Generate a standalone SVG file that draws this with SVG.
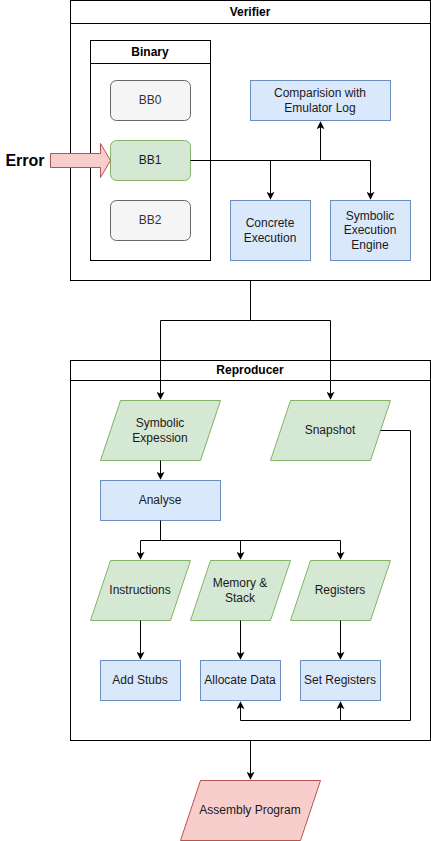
<svg xmlns="http://www.w3.org/2000/svg" width="431" height="841" viewBox="0 0 431 841">
<style>
text{font-family:"Liberation Sans",Arial,sans-serif;font-size:12px;text-anchor:middle;dominant-baseline:central;fill:#1a1a1a}
.t{font-weight:bold;fill:#000}
.c{fill:none;stroke:#000;stroke-width:1}
.sw{fill:#fff;stroke:#000;stroke-width:1}
.grey{fill:#f5f5f5;stroke:#666}
.green{fill:#d5e8d4;stroke:#82b366}
.blue{fill:#dae8fc;stroke:#6c8ebf}
.red{fill:#f8cecc;stroke:#b85450}
</style>
<defs>
<marker id="a" viewBox="0 0 10 10" refX="9" refY="5" markerWidth="8" markerHeight="8" markerUnits="userSpaceOnUse" orient="auto">
<path d="M0,0 L10,5 L0,10 L2.5,5 Z" fill="#000"/>
</marker>
</defs>
<rect width="431" height="841" fill="#fff"/>
<g id="verifier">
<rect class="sw" x="70.5" y="0.5" width="360" height="280"/>
<line class="c" x1="70.5" y1="23.5" x2="430.5" y2="23.5"/>
<text class="t" x="250" y="12">Verifier</text>
</g>
<g id="binary">
<rect class="sw" x="90.5" y="40.5" width="120" height="220"/>
<line class="c" x1="90.5" y1="63.5" x2="210.5" y2="63.5"/>
<text class="t" x="150" y="52">Binary</text>
</g>
<g id="bb0"><rect class="grey" x="110.5" y="80.5" width="80" height="40" rx="6"/><text x="150" y="100" style="fill:#333">BB0</text></g>
<g id="bb1"><rect class="green" x="110.5" y="140.5" width="80" height="40" rx="6"/><text x="150" y="160">BB1</text></g>
<g id="bb2"><rect class="grey" x="110.5" y="200.5" width="80" height="40" rx="6"/><text x="150" y="220" style="fill:#333">BB2</text></g>
<g id="error">
<path class="red" d="M50.5,153.5 L100.5,153.5 L100.5,143.5 L110.5,160.5 L100.5,177.5 L100.5,167.5 L50.5,167.5 Z"/>
<text x="25" y="160" style="font-weight:bold;font-size:16px;fill:#000">Error</text>
</g>
<g id="comparison"><rect class="blue" x="250.5" y="80.5" width="140" height="40"/><text x="320" y="93">Comparision with</text><text x="320" y="108">Emulator Log</text></g>
<g id="concrete"><rect class="blue" x="230.5" y="200.5" width="80" height="60"/><text x="270" y="223">Concrete</text><text x="270" y="238">Execution</text></g>
<g id="symengine"><rect class="blue" x="330.5" y="200.5" width="80" height="60"/><text x="370" y="215.5">Symbolic</text><text x="370" y="230">Execution</text><text x="370" y="245">Engine</text></g>
<g id="reproducer">
<rect class="sw" x="70.5" y="360.5" width="360" height="380"/>
<line class="c" x1="70.5" y1="380.5" x2="430.5" y2="380.5"/>
<text class="t" x="250" y="370">Reproducer</text>
</g>
<g id="symexp"><path class="green" d="M120.5,400.5 L220.5,400.5 L200.5,460.5 L100.5,460.5 Z"/><text x="160" y="423">Symbolic</text><text x="160" y="438">Expession</text></g>
<g id="snapshot"><path class="green" d="M290.5,400.5 L390.5,400.5 L370.5,460.5 L270.5,460.5 Z"/><text x="330" y="430">Snapshot</text></g>
<g id="analyse"><rect class="blue" x="100.5" y="480.5" width="120" height="40"/><text x="160" y="500">Analyse</text></g>
<g id="instructions"><path class="green" d="M110.5,560.5 L190.5,560.5 L170.5,620.5 L90.5,620.5 Z"/><text x="140" y="590">Instructions</text></g>
<g id="memory"><path class="green" d="M210.5,560.5 L290.5,560.5 L270.5,620.5 L190.5,620.5 Z"/><text x="240" y="583">Memory &amp;</text><text x="240" y="598">Stack</text></g>
<g id="registers"><path class="green" d="M310.5,560.5 L390.5,560.5 L370.5,620.5 L290.5,620.5 Z"/><text x="340" y="590">Registers</text></g>
<g id="addstubs"><rect class="blue" x="100.5" y="660.5" width="80" height="40"/><text x="140" y="680">Add Stubs</text></g>
<g id="allocate"><rect class="blue" x="200.5" y="660.5" width="80" height="40"/><text x="240" y="680">Allocate Data</text></g>
<g id="setregs"><rect class="blue" x="300.5" y="660.5" width="80" height="40"/><text x="340" y="680">Set Registers</text></g>
<g id="assembly"><path class="red" d="M200.5,780.5 L320.5,780.5 L300.5,840.5 L180.5,840.5 Z"/><text x="250" y="810">Assembly Program</text></g>
<g id="connectors">
<path class="c" d="M190.5,160.5 H370.5 V199" marker-end="url(#a)"/>
<path class="c" d="M270.5,160.5 V199" marker-end="url(#a)"/>
<path class="c" d="M320.5,160.5 V122" marker-end="url(#a)"/>
<path class="c" d="M250.5,280.5 V320.5 H160.5 V399" marker-end="url(#a)"/>
<path class="c" d="M250.5,320.5 H330.5 V399" marker-end="url(#a)"/>
<path class="c" d="M160.5,460.5 V479" marker-end="url(#a)"/>
<path class="c" d="M160.5,520.5 V540.5 H340.5 V559" marker-end="url(#a)"/>
<path class="c" d="M160.5,540.5 H140.5 V559" marker-end="url(#a)"/>
<path class="c" d="M240.5,540.5 V559" marker-end="url(#a)"/>
<path class="c" d="M140.5,620.5 V659" marker-end="url(#a)"/>
<path class="c" d="M240.5,620.5 V659" marker-end="url(#a)"/>
<path class="c" d="M340.5,620.5 V659" marker-end="url(#a)"/>
<path class="c" d="M380.5,430.5 H410.5 V720.5 H240.5 V702" marker-end="url(#a)"/>
<path class="c" d="M340.5,720.5 V702" marker-end="url(#a)"/>
<path class="c" d="M250.5,740.5 V779" marker-end="url(#a)"/>
</g>
</svg>
